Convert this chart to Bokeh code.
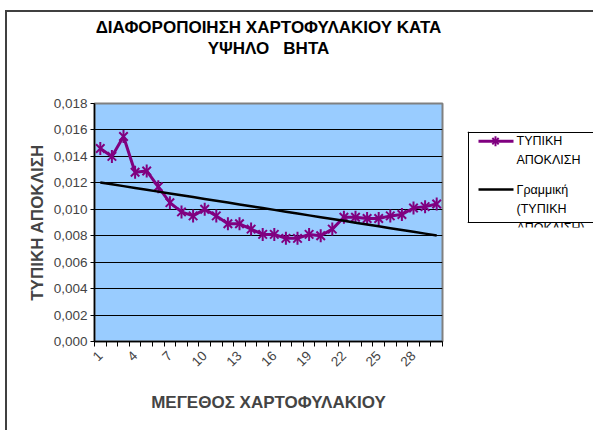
import math
import numpy as np
from bokeh.plotting import figure
from bokeh.layouts import row
from bokeh.models import (FixedTicker, Range1d, Title, CustomJSTickFormatter)
from bokeh.core.properties import value
from bokeh.embed import file_html
from bokeh.resources import INLINE

# ---------------- data ----------------
portfolio_size = [1, 2, 3, 4, 5, 6, 7, 8, 9, 10, 11, 12, 13, 14, 15,
                  16, 17, 18, 19, 20, 21, 22, 23, 24, 25, 26, 27, 28, 29, 30]
std_dev = [0.0146, 0.0140, 0.0155, 0.0128, 0.0129, 0.0117, 0.0105, 0.0098,
           0.0095, 0.0100, 0.0095, 0.0089, 0.0089, 0.0085, 0.0081, 0.0081,
           0.0078, 0.0078, 0.0081, 0.0080, 0.0085, 0.0094, 0.0094, 0.0093,
           0.0093, 0.0095, 0.0096, 0.0101, 0.0102, 0.0104]
x_tick_values = [1, 4, 7, 10, 13, 16, 19, 22, 25, 28]
x_tick_labels = ["1", "4", "7", "10", "13", "16", "19", "22", "25", "28"]
y_tick_values = [0.0, 0.002, 0.004, 0.006, 0.008, 0.010, 0.012, 0.014, 0.016, 0.018]
y_tick_labels = ["0,000", "0,002", "0,004", "0,006", "0,008", "0,010",
                 "0,012", "0,014", "0,016", "0,018"]
title_line1 = "ΔΙΑΦΟΡΟΠΟΙΗΣΗ ΧΑΡΤΟΦΥΛΑΚΙΟΥ ΚΑΤΑ"
title_line2 = "ΥΨΗΛΟ\u00a0\u00a0\u00a0ΒΗΤΑ"
x_label = "ΜΕΓΕΘΟΣ ΧΑΡΤΟΦΥΛΑΚΙΟΥ"
y_label = "ΤΥΠΙΚΗ ΑΠΟΚΛΙΣΗ"
legend_labels = ["ΤΥΠΙΚΗ", "ΑΠΟΚΛΙΣΗ", "Γραμμική", "(ΤΥΠΙΚΗ", "ΑΠΟΚΛΙΣΗ)"]

# linear trendline (least squares, like the spreadsheet's)
slope, intercept = np.polyfit(portfolio_size, std_dev, 1)
trend = [slope * x + intercept for x in portfolio_size]

FONT = "Liberation Sans"
PURPLE = "#800080"
OX, OY = 7, 12          # chart content offset inside the outer border

# ---------------- main chart ----------------
p = figure(width=467 - OX, height=430 - OY,
           x_range=Range1d(0.5, 30.5), y_range=Range1d(0, 0.018),
           output_backend="svg", toolbar_location=None,
           min_border_left=94 - OX, min_border_right=25,
           min_border_top=103 - OY, min_border_bottom=430 - 341,
           background_fill_color="#99CCFF", border_fill_color="white",
           outline_line_color="#808080", outline_line_width=2)
p.frame_align = False

# spacer (keeps the two title lines away from the plot area), then titles
p.add_layout(Title(text=" ", standoff=27, text_font=FONT,
                   text_font_size="16px"), "above")
for txt in (title_line2, title_line1):
    p.add_layout(Title(text=txt, align="center", standoff=0,
                       text_font=FONT, text_font_size="17px",
                       text_font_style="bold", text_color="black"), "above")

# grid
p.xgrid.visible = False
p.ygrid.ticker = FixedTicker(ticks=y_tick_values)
p.ygrid.grid_line_color = "black"
p.ygrid.grid_line_width = 1

# y axis
p.yaxis.ticker = FixedTicker(ticks=y_tick_values)
p.yaxis.formatter = CustomJSTickFormatter(
    args=dict(vals=y_tick_values, labels=y_tick_labels),
    code="for (let i = 0; i < vals.length; i++) { if (Math.abs(vals[i] - tick) < 1e-9) return labels[i]; } return '';")
p.yaxis.axis_label = y_label
p.yaxis.axis_label_text_font = FONT
p.yaxis.axis_label_text_font_size = "17px"
p.yaxis.axis_label_text_font_style = "bold"
p.yaxis.axis_label_standoff = 4
p.yaxis.major_label_text_font = FONT
p.yaxis.major_label_text_font_size = "13.5px"
p.yaxis.major_label_standoff = 3
p.yaxis.major_tick_out = 4
p.yaxis.major_tick_in = 0
p.yaxis.minor_tick_out = 0
p.yaxis.minor_tick_in = 0
p.yaxis.axis_line_color = "black"
p.yaxis.axis_line_width = 1.5
p.yaxis.major_tick_line_color = "black"

# x axis
minor_bounds = [i + 0.5 for i in range(0, 31)]
p.xaxis.ticker = FixedTicker(ticks=x_tick_values, minor_ticks=minor_bounds)
p.xaxis.major_label_overrides = {v: s for v, s in zip(x_tick_values, x_tick_labels)}
p.xaxis.major_label_orientation = math.pi / 4
p.xaxis.axis_label = x_label
p.xaxis.axis_label_text_font = FONT
p.xaxis.axis_label_text_font_size = "17px"
p.xaxis.axis_label_text_font_style = "bold"
p.xaxis.axis_label_standoff = 20
p.xaxis.major_label_text_font = FONT
p.xaxis.major_label_text_font_size = "13.5px"
p.xaxis.major_label_standoff = 7
p.xaxis.major_tick_out = 0
p.xaxis.major_tick_in = 0
p.xaxis.minor_tick_out = 5
p.xaxis.minor_tick_in = 0
p.xaxis.minor_tick_line_color = "black"
p.xaxis.axis_line_color = "black"
p.xaxis.axis_line_width = 1.5

# series
p.line(portfolio_size, std_dev, line_color=PURPLE, line_width=3)
p.scatter(portfolio_size, std_dev, marker="x", size=12,
          line_color=PURPLE, line_width=2)
p.scatter(portfolio_size, std_dev, marker="dash", angle=math.pi / 2, size=13,
          line_color=PURPLE, line_width=2)
p.line(portfolio_size, trend, line_color="black", line_width=2.5)

# ---------------- legend panel ----------------
lg = figure(width=126, height=430 - OY,
            x_range=Range1d(0, 126), y_range=Range1d(96, 0),
            x_axis_type=None, y_axis_type=None,
            output_backend="svg", toolbar_location=None,
            min_border_left=0, min_border_right=0,
            min_border_top=131 - OY, min_border_bottom=430 - 131 - 96,
            background_fill_color="white", border_fill_color="white",
            outline_line_color=None)
lg.frame_align = False
lg.grid.visible = False

# legend box (left, top, bottom edges)
lg.segment(x0=[1, 0, 0], y0=[0, 1, 91], x1=[1, 126, 126], y1=[91, 1, 91],
           line_color="black", line_width=1)
# legend samples
lg.line([11, 46], [9.7, 9.7], line_color=PURPLE, line_width=3)
lg.scatter([28], [9.7], marker="x", size=9, line_color=PURPLE, line_width=2)
lg.scatter([28], [9.7], marker="dash", angle=math.pi / 2, size=10,
           line_color=PURPLE, line_width=2)
lg.line([11, 46], [58, 58], line_color="black", line_width=2.5)
lg.text(x=[49] * 5, y=[9, 28, 58, 77, 96], text=legend_labels,
        text_baseline="middle", text_align="left",
        text_font=value(FONT), text_font_size="12.5px", text_color="black")

layout = row(p, lg, margin=(10, 0, 0, 5),
             styles={"border-top": "2px solid #404040",
                     "border-left": "2px solid #404040"})
open("out.html", "w").write(file_html(layout, INLINE))
